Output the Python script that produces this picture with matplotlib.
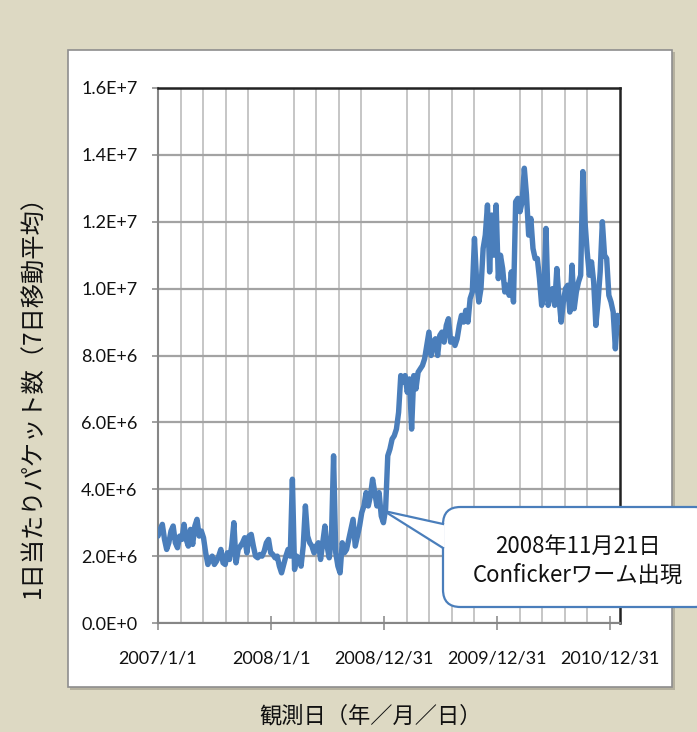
import numpy as np
import pandas as pd
import matplotlib
matplotlib.use('Agg')
import matplotlib.pyplot as plt
import matplotlib.dates as mdates
from matplotlib.patches import Rectangle, FancyBboxPatch, Polygon
from matplotlib.lines import Line2D
from matplotlib.ticker import FixedLocator, FuncFormatter

# weekly readings (packets/day, 7-day moving average), in millions, from 2007/1/1
packets_2007 = [2.6, 2.8, 2.95, 2.5, 2.2, 2.4, 2.75, 2.9, 2.4, 2.25,
                2.6, 2.5, 2.95, 2.5, 2.3, 2.8, 2.35, 2.9, 3.1, 2.6,
                2.75, 2.55, 2.1, 1.75, 1.9, 2.0, 1.75, 1.85, 2.0, 2.2,
                1.8, 1.75, 2.1, 1.9, 2.3, 3.0, 1.8, 2.2, 2.3, 2.4,
                2.55, 2.1, 2.6, 2.65, 2.3, 2.0, 1.95, 2.05, 2.0, 2.15,
                2.4, 2.5, 2.1]
packets_2008 = [2.05, 1.95, 2.0, 1.7, 1.5, 1.75, 2.0, 2.2, 2.0, 4.3,
                1.6, 2.0, 1.9, 1.7, 2.3, 3.5, 2.6, 2.4, 2.3, 2.1,
                2.3, 2.4, 1.9, 2.4, 2.9, 2.3, 1.95, 2.5, 5.0, 2.1,
                1.7, 1.5, 2.4, 2.1, 2.2, 2.5, 2.8, 3.1, 2.3, 2.6,
                2.9, 3.3, 3.5, 3.9, 3.5, 3.8, 4.3, 3.9, 3.5, 3.9,
                3.2, 3.0]
packets_2009a = [3.4, 5.0, 5.2, 5.5, 5.6, 5.8, 6.3, 7.4, 7.2, 7.4,
                 6.9, 7.3, 5.8, 7.4, 7.0, 7.5, 7.6, 7.7, 7.9, 8.3,
                 8.7, 8.0, 8.4, 8.5, 8.0, 8.6, 8.7, 8.4, 8.9, 9.1,
                 8.4, 8.5, 8.3]
packets_2009b = [8.5, 8.9, 9.2, 9.0, 9.35, 9.0, 9.7, 9.9, 11.5, 10.2,
                 9.6, 10.0, 11.2, 11.6, 12.5, 10.5, 12.2, 11.0, 12.5, 10.3,
                 11.0, 10.6, 9.9, 10.1, 9.8, 10.5, 9.6, 12.6, 12.7, 12.3,
                 12.6, 13.6, 12.8, 11.6, 12.1, 11.2]
packets_2010 = [10.9, 10.9, 10.3, 9.5, 9.8, 11.8, 9.5, 9.9, 10.0, 9.5,
                10.6, 9.7, 9.0, 9.6, 10.0, 10.1, 9.3, 10.7, 9.4, 9.9,
                10.2, 10.4, 13.5, 12.0, 11.1, 10.4, 10.8, 10.2, 8.9, 9.6,
                10.5, 12.0, 11.0, 10.9, 9.8, 9.6, 9.3, 8.2, 9.2, 9.0]

packets = np.array(packets_2007 + packets_2008 + packets_2009a
                   + packets_2009b + packets_2010) * 1e6
dates = pd.date_range('2007-01-01', periods=len(packets), freq='7D')

tick_dates = ['2007-01-01', '2008-01-01', '2008-12-31', '2009-12-31', '2010-12-31']
tick_labels = ['2007/1/1', '2008/1/1', '2008/12/31', '2009/12/31', '2010/12/31']
y_ticks = np.arange(0, 1.61e7, 2e6)

callout_text = '2008年11月21日\nConfickerワーム出現'
callout_date = '2008-12-31'
callout_value = 3.35e6

W, H = 697, 732
BG = '#ddd9c3'
BLUE = '#4a7ebb'
JP = ['Noto Sans CJK JP', 'DejaVu Sans']

plt.rcParams['font.family'] = ['Lato', 'Noto Sans CJK JP', 'DejaVu Sans']


def fp(x, y):
    # pixel (top-left origin) -> figure fraction
    return (x / W, 1 - y / H)


fig = plt.figure(figsize=(W / 100, H / 100), dpi=100, facecolor=BG)

# white chart panel with a soft shadow
fig.patches.append(Rectangle(fp(70, 689.5), 605 / W, 637.5 / H, transform=fig.transFigure,
                             facecolor='#b5b19f', edgecolor='none', zorder=-3))
fig.patches.append(Rectangle(fp(67.5, 687), 604.5 / W, 637.5 / H, transform=fig.transFigure,
                             facecolor='white', edgecolor='#8e8e8e', lw=1.2, zorder=-2))

ax = fig.add_axes([158 / W, 1 - 623 / H, (620 - 158) / W, (623 - 88) / H])
ax.set_facecolor('white')

ax.plot(dates, packets, color=BLUE, lw=3.9, solid_joinstyle='round',
        solid_capstyle='round', zorder=3)

x0 = mdates.date2num(pd.Timestamp('2007-01-01'))
x1 = mdates.date2num(pd.Timestamp('2011-02-01'))
ax.set_xlim(x0, x1)
ax.set_ylim(0, 1.6e7)

major = [mdates.date2num(pd.Timestamp(d)) for d in tick_dates]
ax.xaxis.set_major_locator(FixedLocator(major))
ax.set_xticklabels(tick_labels)
ax.xaxis.set_minor_locator(FixedLocator(x0 + np.arange(1, 21) * 73))
ax.grid(which='minor', axis='x', color='#c6c6c6', lw=1.4, zorder=1)

ax.set_yticks(y_ticks)


def sci(v, pos):
    if v == 0:
        return '0.0E+0'
    e = int(np.floor(np.log10(v)))
    return f'{v / 10 ** e:.1f}E+{e}'


ax.yaxis.set_major_formatter(FuncFormatter(sci))
ax.grid(which='major', axis='y', color='#a3a3a3', lw=1.6, zorder=1)

for s in ['left', 'bottom']:
    ax.spines[s].set_color('#868686')
    ax.spines[s].set_linewidth(1.5)
for s in ['top', 'right']:
    ax.spines[s].set_color('#222222')
    ax.spines[s].set_linewidth(1.8)

ax.tick_params(axis='y', direction='out', length=4.3, width=1.1, color='#868686',
               pad=10.5, labelsize=13, labelcolor='#111111')
ax.tick_params(axis='x', which='major', direction='inout', length=10, width=1.1,
               color='#868686', pad=15, labelsize=13, labelcolor='#111111')
ax.tick_params(axis='x', which='minor', length=0)

# axis titles
fig.text(*fp(34, 390), '1日当たりパケット数（7日移動平均）', rotation=90,
         ha='center', va='center', fontsize=17.5, family=JP, color='#111111')
fig.text(*fp(371, 716), '観測日（年／月／日）', ha='center', va='center',
         fontsize=16, family=JP, color='#111111')

# callout bubble pointing at the outbreak
tip_disp = ax.transData.transform((mdates.date2num(pd.Timestamp(callout_date)), callout_value))
tip = fig.transFigure.inverted().transform(tip_disp)

box = FancyBboxPatch(fp(443, 607), (712 - 443) / W, 100 / H,
                     boxstyle='round,pad=0,rounding_size=0.025',
                     transform=fig.transFigure, facecolor='white',
                     edgecolor=BLUE, lw=1.6, zorder=5, mutation_aspect=W / H)
fig.patches.append(box)
b_top = fp(443, 524)
b_bot = fp(443, 548)
fig.patches.append(Polygon([fp(444.5, 524), tip, fp(444.5, 548)], closed=True,
                           transform=fig.transFigure, facecolor='white',
                           edgecolor='none', zorder=6))
for b in (b_top, b_bot):
    fig.lines.append(Line2D([tip[0], b[0]], [tip[1], b[1]], transform=fig.transFigure,
                            color=BLUE, lw=1.6, zorder=7))
fig.text(*fp(577.5, 561), callout_text, ha='center', va='center', fontsize=16,
         family=JP, color='#111111', linespacing=1.3, zorder=8)

fig.savefig('out.png', dpi=100, facecolor=BG)
